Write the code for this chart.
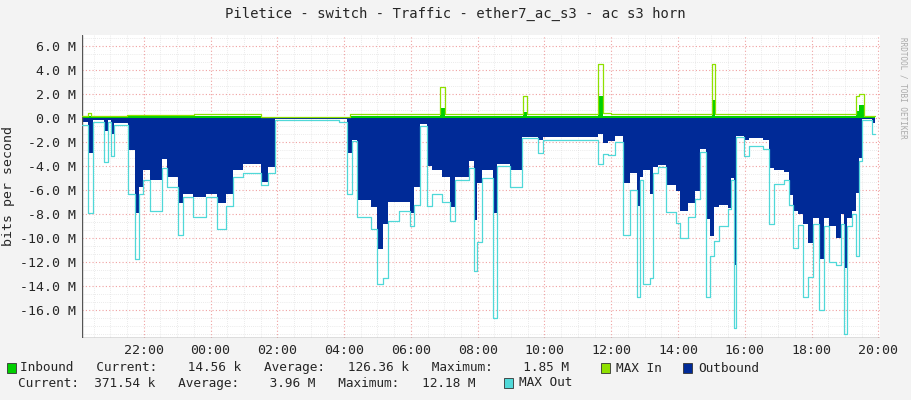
import numpy as np, pandas as pd, matplotlib
matplotlib.use("Agg")
import matplotlib.pyplot as plt, seaborn as sns

# Outbound: step changes (time, average, max) in Mbit/s (negative = outbound)
out_times = ["20:05","20:20","20:29","20:49","20:56","21:02","21:06","21:32","21:44","21:52","21:59",
             "22:11","22:32","22:41","23:02","23:10","23:28","23:52","00:11","00:28","00:40","00:58",
             "01:31","01:43","01:55","03:51","04:06","04:15","04:24","04:48","05:00","05:09","05:19",
             "05:38","05:58","06:05","06:17","06:29","06:38","06:56","07:11","07:20","07:44","07:53",
             "07:59","08:08","08:27","08:35","08:58","09:19","09:49","09:58","11:37","11:46","11:55",
             "12:07","12:22","12:34","12:46","12:52","12:57","13:09","13:15","13:24","13:39","13:57",
             "14:03","14:18","14:30","14:39","14:51","14:57","15:05","15:14","15:29","15:35","15:40",
             "15:44","15:59","16:08","16:32","16:44","16:53","17:11","17:20","17:26","17:35","17:44",
             "17:53","18:02","18:14","18:23","18:32","18:44","18:53","18:59","19:04","19:13","19:19",
             "19:25","19:31","19:49","19:54"]
out_avg = [-0.3,-2.9,-0.2,-1.1,-0.2,-1.3,-0.4,-2.7,-7.9,-5.7,-4.3,
           -5.2,-3.4,-4.9,-7.1,-6.3,-6.6,-6.3,-7.1,-6.3,-4.3,-3.8,
           -5.3,-4.1,-0.1,-0.1,-2.9,-1.8,-6.8,-7.4,-10.9,-8.8,-7.0,
           -7.0,-7.9,-5.7,-0.5,-4.0,-4.3,-4.9,-7.4,-4.9,-3.6,-8.5,
           -5.4,-4.3,-7.9,-3.8,-4.3,-1.6,-1.8,-1.6,-1.3,-2.1,-1.9,
           -1.5,-5.4,-4.6,-7.3,-4.9,-4.3,-6.3,-4.1,-3.9,-5.6,-6.1,
           -7.7,-7.1,-6.1,-2.6,-8.4,-9.8,-7.4,-7.2,-7.5,-5.0,-12.2,
           -1.5,-1.8,-1.7,-1.8,-4.2,-4.3,-4.5,-6.4,-7.7,-8.0,-8.8,
           -10.4,-8.3,-11.7,-8.3,-9.0,-10.0,-8.0,-12.5,-8.3,-7.7,-6.2,
           -3.3,-0.1,-0.4,-0.4]
out_max = [-0.6,-7.9,-0.3,-3.7,-0.3,-3.2,-0.6,-6.3,-11.7,-6.3,-5.2,
           -7.7,-4.2,-5.7,-9.75,-6.6,-8.2,-6.6,-9.2,-7.3,-4.9,-4.6,
           -5.6,-4.6,-0.2,-0.3,-6.3,-1.9,-8.2,-9.2,-13.8,-13.3,-8.6,
           -7.7,-9.0,-7.2,-0.7,-7.3,-6.3,-7.0,-8.6,-5.2,-4.2,-12.7,
           -10.3,-5.0,-16.6,-4.0,-5.7,-1.7,-2.9,-1.8,-3.8,-3.0,-3.1,
           -2.0,-9.7,-6.0,-14.9,-5.2,-13.8,-13.3,-4.6,-4.1,-7.8,-8.7,
           -10.0,-8.2,-6.7,-2.8,-14.9,-11.5,-10.2,-9.0,-7.6,-5.2,-17.5,
           -1.6,-3.2,-2.3,-2.6,-8.8,-5.5,-5.2,-7.2,-10.8,-8.9,-14.9,
           -13.2,-8.8,-16.0,-9.0,-12.0,-12.2,-8.8,-18.0,-9.0,-8.0,-11.5,
           -3.6,-0.2,-1.3,-1.3]

# Inbound: step changes (time, average, max)
in_times = ["20:05","20:20","20:26","21:30","23:30","01:30","03:51","04:10","06:53","07:02","09:22",
            "09:28","11:37","11:46","12:00","15:02","15:06","19:19","19:26","19:34","19:54"]
in_avg = [0.1,0.2,0.1,0.15,0.2,0.03,0.05,0.2,0.8,0.15,0.5,0.15,1.8,0.2,0.15,1.5,0.15,0.6,1.1,0.1,0.1]
in_max = [0.2,0.4,0.2,0.25,0.3,0.05,0.1,0.35,2.6,0.3,1.8,0.3,4.5,0.4,0.3,4.5,0.3,1.8,2.0,0.2,0.2]

tick_labels = ["22:00","00:00","02:00","04:00","06:00","08:00","10:00","12:00","14:00","16:00","18:00","20:00"]

def to_hours(lst):
    h = np.array([int(s[:2]) + int(s[3:]) / 60 for s in lst])
    return np.where(h < 20, h + 24, h)

dout = pd.DataFrame({"t": to_hours(out_times), "avg": out_avg, "max": out_max})
din = pd.DataFrame({"t": to_hours(in_times), "avg": in_avg, "max": in_max})

sns.set_style("white")
plt.rcParams['font.family'] = ['DejaVu Sans Mono']
fig = plt.figure(figsize=(9.11, 4.0), dpi=100, facecolor="#f3f3f3")
ax = fig.add_axes([82/911, 62/400, 798/911, 303/400])
ax.set_facecolor("white")

ax.fill_between(dout.t, dout["avg"], 0, step="post", color="#002a97", lw=0, zorder=2)
sns.lineplot(data=dout, x="t", y="max", drawstyle="steps-post", color="#50d8d8", lw=0.9, ax=ax, zorder=3)
ax.fill_between(din.t, din["avg"], 0, step="post", color="#00cf00", lw=0, zorder=2)
sns.lineplot(data=din, x="t", y="max", drawstyle="steps-post", color="#8fe000", lw=0.9, ax=ax, zorder=3)

ax.set_xlim(20.15, 44.05)
ax.set_ylim(-18.3, 6.9)
ax.set_xticks(np.arange(22, 44.01, 2))
ax.set_xticklabels(tick_labels, fontsize=9.5)
yt = np.arange(-16, 7, 2)
ax.set_yticks(yt)
ax.set_yticklabels([f"{v:.1f} M" for v in yt], fontsize=9.5)
ax.set_xticks(np.arange(20.5, 44.01, 0.5), minor=True)
ax.set_yticks(np.arange(-18, 7, 2/3), minor=True)
ax.grid(which="major", color="#f0a0a0", ls=(0, (1, 2)), lw=0.8)
ax.grid(which="minor", color="#d8d8d8", ls=(0, (1, 2)), lw=0.5)
ax.set_axisbelow(True)
ax.set_xlabel(""); ax.set_ylabel("bits per second", fontsize=9.5)
for s in ax.spines.values(): s.set_visible(False)
ax.tick_params(length=0, pad=4)
ax.axvline(20.15, color="#555555", lw=1)
ax.axhline(-18.3, color="#555555", lw=1)

fig.text(0.5, 1-14/400, "Piletice - switch - Traffic - ether7_ac_s3 - ac s3 horn", ha="center", va="center", fontsize=10)
fig.text(903/911, 0.78, "RRDTOOL / TOBI OETIKER", rotation=270, fontsize=5.5, color="#aaaaaa", ha="center", va="center")

def box(x, y, c):
    fig.patches.append(plt.Rectangle((x/911, 1-(y+5)/400), 9/911, 10/400, transform=fig.transFigure,
                                     facecolor=c, edgecolor="#333333", lw=0.6))
fs = 9.2
y1, y2 = 368, 383
box(7, y1, "#00cf00")
fig.text(20/911, 1-y1/400, "Inbound   Current:    14.56 k   Average:   126.36 k   Maximum:    1.85 M", va="center", fontsize=fs)
box(601, y1, "#8fe000")
fig.text(616/911, 1-y1/400, "MAX In", va="center", fontsize=fs)
box(683, y1, "#002a97")
fig.text(698/911, 1-y1/400, "Outbound", va="center", fontsize=fs)
fig.text(18/911, 1-y2/400, "Current:  371.54 k   Average:    3.96 M   Maximum:   12.18 M", va="center", fontsize=fs)
box(504, y2, "#50d8d8")
fig.text(519/911, 1-y2/400, "MAX Out", va="center", fontsize=fs)

fig.savefig("out.png", dpi=100, facecolor=fig.get_facecolor())
